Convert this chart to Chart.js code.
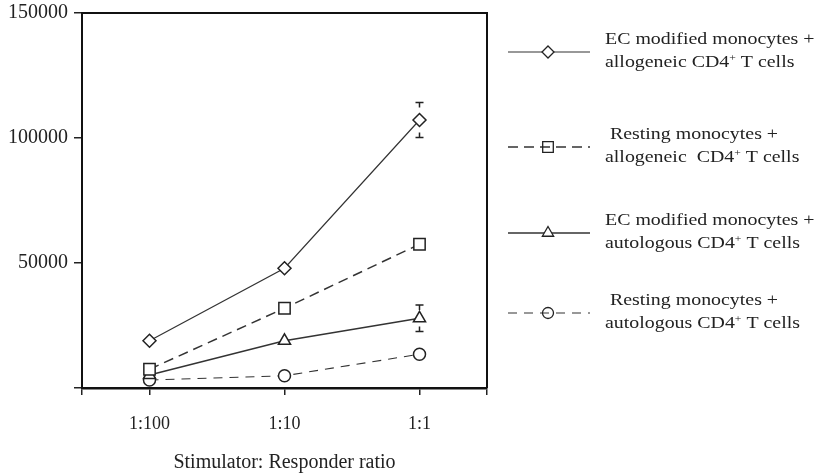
<!DOCTYPE html>
<html>
<head>
<meta charset="utf-8">
<script src="https://cdn.jsdelivr.net/npm/chart.js@4.4.0/dist/chart.umd.min.js"></script>
<style>
  html, body { margin: 0; padding: 0; background: #fff; }
  #wrap { width: 815px; height: 475px; position: relative; }
</style>
</head>
<body>
<div id="wrap"><canvas id="chart"></canvas></div>
<script>
// values (cpm)
const ratios = ['1:100', '1:10', '1:1'];
const ecAllo = [18900, 47900, 107200];
const restAllo = [7500, 31900, 57500];
const ecAuto = [5200, 18900, 27900];
const restAuto = [3200, 4900, 13500];
const ecAlloErr = [0, 0, 7000];
const ecAutoErr = [0, 0, 5300];
const yTicks = [0, 50000, 100000, 150000];

// legend text, "^+" marks the superscript
const legendText = [
  ['EC modified monocytes +', 'allogeneic CD4^+ T cells'],
  [' Resting monocytes +', 'allogeneic  CD4^+ T cells'],
  ['EC modified monocytes +', 'autologous CD4^+ T cells'],
  [' Resting monocytes +', 'autologous CD4^+ T cells']
];

const FONT = "'Liberation Serif', 'Times New Roman', serif";
const INK = '#222';

const toPoints = (vals) => vals.map((v, i) => ({ x: i, y: v }));

const series = [
  { data: ecAllo, err: ecAlloErr, style: 'rectRot', radius: 6.5, dash: [], width: 1.2, fillLegend: true },
  { data: restAllo, err: null, style: 'rect', radius: 8, dash: [10, 6], width: 1.5, fillLegend: false },
  { data: ecAuto, err: ecAutoErr, style: 'triangle', radius: 7, dash: [], width: 1.5, fillLegend: true },
  { data: restAuto, err: null, style: 'circle', radius: 6, dash: [9, 7], width: 1.1, fillLegend: false }
];

// little error caps above / below the marker
const errorBars = {
  id: 'errorBars',
  afterDatasetsDraw(chart) {
    const { ctx, scales: { x, y } } = chart;
    ctx.save();
    ctx.strokeStyle = INK;
    ctx.lineWidth = 1.5;
    series.forEach((s) => {
      if (!s.err) return;
      s.data.forEach((v, i) => {
        if (!s.err[i]) return;
        const px = x.getPixelForValue(i);
        const top = y.getPixelForValue(v + s.err[i]);
        const bot = y.getPixelForValue(v - s.err[i]);
        ctx.beginPath();
        ctx.moveTo(px - 4, top); ctx.lineTo(px + 4, top);
        ctx.moveTo(px, top); ctx.lineTo(px, top + 5);
        ctx.moveTo(px - 4, bot); ctx.lineTo(px + 4, bot);
        ctx.moveTo(px, bot); ctx.lineTo(px, bot - 5);
        ctx.stroke();
      });
    });
    ctx.restore();
  }
};

// top and right edges of the box
const frame = {
  id: 'frame',
  beforeDatasetsDraw(chart) {
    const { ctx, chartArea: a } = chart;
    ctx.save();
    ctx.strokeStyle = '#111';
    ctx.lineWidth = 2;
    ctx.beginPath();
    ctx.moveTo(a.left, a.top);
    ctx.lineTo(a.right, a.top);
    ctx.lineTo(a.right, a.bottom);
    ctx.stroke();
    ctx.restore();
  }
};

function marker(ctx, style, r, x, y, fill) {
  ctx.beginPath();
  if (style === 'rectRot') {
    ctx.moveTo(x, y - r); ctx.lineTo(x + r, y); ctx.lineTo(x, y + r); ctx.lineTo(x - r, y);
    ctx.closePath();
  } else if (style === 'rect') {
    const h = r * Math.SQRT1_2;
    ctx.rect(x - h, y - h, 2 * h, 2 * h);
  } else if (style === 'triangle') {
    const h = r * Math.sin(Math.PI / 3);
    ctx.moveTo(x, y - r); ctx.lineTo(x + h, y + r / 2); ctx.lineTo(x - h, y + r / 2);
    ctx.closePath();
  } else {
    ctx.arc(x, y, r, 0, Math.PI * 2);
  }
  if (fill) { ctx.fillStyle = '#fff'; ctx.fill(); }
  ctx.stroke();
}

function legendLine(ctx, str, x, y) {
  const parts = str.split('^+');
  ctx.save();
  ctx.fillStyle = INK;
  ctx.textBaseline = 'middle';
  ctx.translate(x, y);
  ctx.scale(1.17, 1);
  let cx = 0;
  parts.forEach((p, i) => {
    ctx.font = '17px ' + FONT;
    ctx.fillText(p, cx, 0);
    cx += ctx.measureText(p).width;
    if (i < parts.length - 1) {
      ctx.font = '10px ' + FONT;
      ctx.fillText('+', cx, -5);
      cx += ctx.measureText('+').width;
    }
  });
  ctx.restore();
}

const sideLegend = {
  id: 'sideLegend',
  afterDraw(chart) {
    const { ctx } = chart;
    const rowY = [52, 147, 233, 313];
    ctx.save();
    series.forEach((s, i) => {
      const y = rowY[i];
      ctx.strokeStyle = '#333';
      ctx.lineWidth = s.width;
      ctx.setLineDash(s.dash);
      ctx.beginPath();
      ctx.moveTo(508, y); ctx.lineTo(590, y);
      ctx.stroke();
      ctx.setLineDash([]);
      ctx.lineWidth = 1.3;
      ctx.strokeStyle = INK;
      marker(ctx, s.style, s.radius - 0.5, 548, y, s.fillLegend);
      legendLine(ctx, legendText[i][0], 605, y - 12);
      legendLine(ctx, legendText[i][1], 605, y + 11);
    });
    ctx.restore();
  }
};

new Chart(document.getElementById('chart'), {
  type: 'line',
  data: {
    datasets: series.map((s, i) => ({
      label: legendText[i].join(' ').replace('^+', '+'),
      data: toPoints(s.data),
      borderColor: '#333',
      borderWidth: s.width,
      borderDash: s.dash,
      tension: 0,
      pointStyle: s.style,
      pointRadius: s.radius,
      pointBackgroundColor: '#fff',
      pointBorderColor: INK,
      pointBorderWidth: 1.5,
      fill: false
    }))
  },
  options: {
    responsive: true,
    maintainAspectRatio: false,
    animation: false,
    layout: { padding: { top: 13, right: 328, left: 0, bottom: 0 } },
    plugins: { legend: { display: false }, tooltip: { enabled: false } },
    scales: {
      x: {
        type: 'linear',
        min: -0.5,
        max: 2.5,
        afterBuildTicks: (scale) => {
          scale.ticks = [-0.5, ...ratios.map((r, i) => i), 2.5].map((v) => ({ value: v }));
        },
        afterFit: (scale) => { scale.height = 87; scale.paddingLeft = 0; scale.paddingRight = 0; },
        grid: { drawOnChartArea: false, drawTicks: true, tickLength: 7, color: INK, lineWidth: 1.5 },
        border: { display: true, color: '#111', width: 2.5 },
        ticks: {
          autoSkip: false,
          maxRotation: 0,
          padding: 18,
          color: INK,
          font: { family: FONT, size: 18 },
          callback: (v) => (Number.isInteger(v) ? ratios[v] : '')
        },
        title: {
          display: true,
          text: 'Stimulator: Responder ratio',
          color: INK,
          font: { family: FONT, size: 20 },
          padding: { top: 0, bottom: 0 }
        }
      },
      y: {
        min: 0,
        max: 150000,
        afterBuildTicks: (scale) => {
          scale.ticks = yTicks.map((v) => ({ value: v }));
        },
        afterFit: (scale) => { scale.width = 82; scale.paddingTop = 0; scale.paddingBottom = 0; },
        grid: { drawOnChartArea: false, drawTicks: true, tickLength: 8, color: INK, lineWidth: 1.5 },
        border: { display: true, color: '#111', width: 2 },
        ticks: {
          padding: 6,
          color: INK,
          font: { family: FONT, size: 20 },
          callback: (v) => (v === 0 ? '' : String(v))
        }
      }
    }
  },
  plugins: [frame, errorBars, sideLegend]
});
</script>
</body>
</html>
